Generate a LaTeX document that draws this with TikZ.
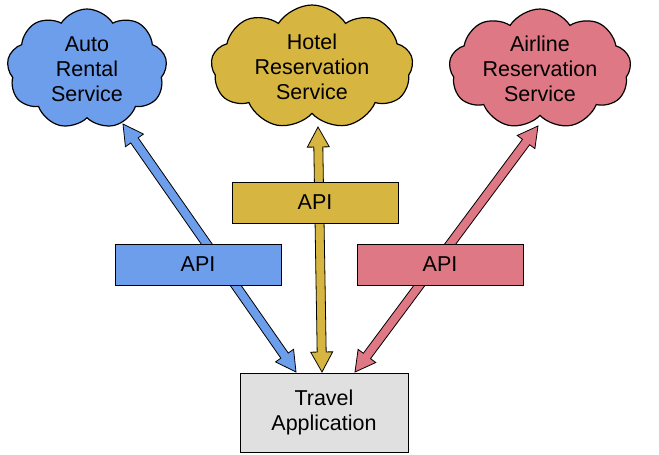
\documentclass[tikz,border=0pt]{standalone}
\usepackage{fontspec}
\setmainfont{Liberation Sans}
\usetikzlibrary{shapes.symbols,calc}
\definecolor{cblue}{HTML}{6D9EEB}
\definecolor{cyellow}{HTML}{D7B541}
\definecolor{cred}{HTML}{DD7884}
\definecolor{cgrey}{HTML}{E0E0E0}
\tikzset{
  svc/.style={cloud, cloud puffs=9, cloud puff arc=115, cloud ignores aspect, draw=black, line width=1.2pt, align=center, font=\fontsize{21.5}{25}\selectfont, inner sep=0pt},
  api/.style={draw=black, line width=0.8pt, minimum width=166pt, minimum height=41pt, inner sep=0pt, font=\fontsize{21.5}{23}\selectfont},
  app/.style={draw=black, line width=0.8pt, fill=cgrey, minimum width=168pt, minimum height=79pt, inner sep=0pt, align=center, font=\fontsize{21.5}{25}\selectfont}
}
\newcommand{\BlkArrow}[3]{%
  \filldraw[fill=#3,draw=black,line width=0.8pt,line join=miter]
    (#1) -- ($(#1)!20pt!(#2)!11pt!90:(#2)$) -- ($(#1)!20pt!(#2)!4.5pt!90:(#2)$)
    -- ($(#2)!20pt!(#1)!4.5pt!-90:(#1)$) -- ($(#2)!20pt!(#1)!11pt!-90:(#1)$)
    -- (#2) -- ($(#2)!20pt!(#1)!11pt!90:(#1)$) -- ($(#2)!20pt!(#1)!4.5pt!90:(#1)$)
    -- ($(#1)!20pt!(#2)!4.5pt!-90:(#2)$) -- ($(#1)!20pt!(#2)!11pt!-90:(#2)$) -- cycle;}
\begin{document}
\begin{tikzpicture}[x=1pt,y=-1pt]
\useasboundingbox (0,0) rectangle (659,455);
\node[svc, fill=cblue, minimum width=160pt, minimum height=120pt] (auto) at (87,69) {Auto\\Rental\\Service};
\node[svc, fill=cyellow, minimum width=202pt, minimum height=124pt] (hotel) at (312,67) {Hotel\\Reservation\\Service};
\node[svc, fill=cred, minimum width=182pt, minimum height=120pt] (air) at (540,69) {Airline\\Reservation\\Service};
\coordinate (bt) at (123,124);
\coordinate (bb) at (296,372);
\coordinate (yt) at (318,127);
\coordinate (yb) at (322,372);
\coordinate (rt) at (538,126);
\coordinate (rb) at (355,372);
\BlkArrow{bt}{bb}{cblue}
\BlkArrow{yt}{yb}{cyellow}
\BlkArrow{rt}{rb}{cred}
\node[api, fill=cblue] (apib) at (198,264.5) {API};
\node[api, fill=cyellow] (apiy) at (315,202.5) {API};
\node[api, fill=cred] (apir) at (440,264.5) {API};
\node[app] (app) at (324,412.5) {Travel\\Application};
\end{tikzpicture}
\end{document}
